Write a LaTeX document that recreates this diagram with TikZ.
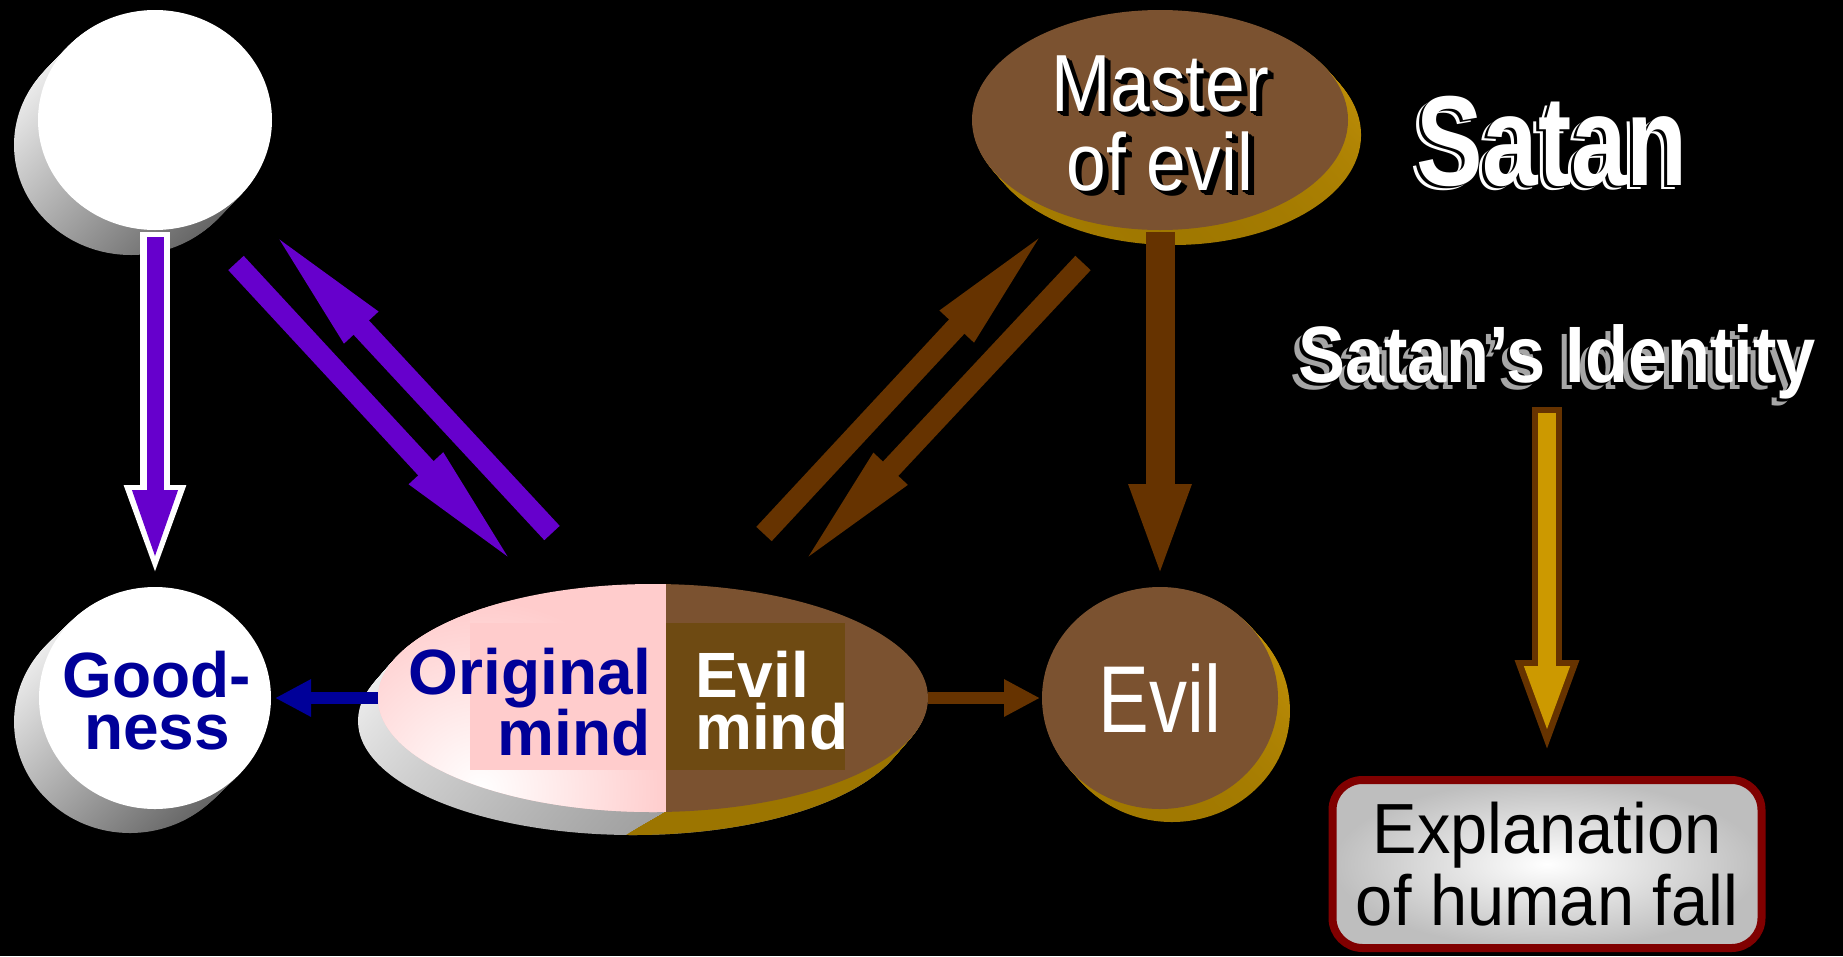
\documentclass[tikz,border=0pt]{standalone}
\usepackage{fontspec}
\setmainfont{Liberation Sans}
\newfontfamily\masterfont{Liberation Sans}[FakeStretch=0.88]
\newfontfamily\evilfont{Liberation Sans}[FakeStretch=0.8]
\newfontfamily\fallfont{Liberation Sans}[FakeStretch=0.94]
\newfontfamily\satanfont{Liberation Sans}[FakeStretch=0.78]
\newfontfamily\identfont{Liberation Sans}[FakeStretch=0.88]
\usetikzlibrary{shapes.geometric,arrows.meta,positioning}

\definecolor{arrowpurple}{HTML}{6600CC}
\definecolor{goodblue}{HTML}{000099}
\definecolor{arrowbrown}{HTML}{663300}
\definecolor{facebrown}{HTML}{7B5230}
\definecolor{evilbox}{HTML}{6E4A12}
\definecolor{pinkface}{HTML}{FFCCCC}
\definecolor{sidegold}{HTML}{C8960A}
\definecolor{sidegolddark}{HTML}{A07800}
\definecolor{mindgold}{HTML}{9C7500}
\definecolor{arrowgold}{HTML}{CC9900}
\definecolor{falldred}{HTML}{800000}
\definecolor{boxgray}{HTML}{BEBEBE}

\begin{document}
\begin{tikzpicture}[
    x=1pt, y=-1pt,
    face/.style={ellipse, inner sep=0pt, outer sep=0pt},
    mindtext/.style={inner sep=0pt, font=\bfseries\fontsize{64}{52}\selectfont},
    mastertext/.style={inner sep=0pt, align=center, font=\masterfont\fontsize{81}{79}\selectfont},
    satantext/.style={inner sep=0pt, anchor=base, font=\satanfont\bfseries\fontsize{128}{128}\selectfont},
    identtext/.style={inner sep=0pt, anchor=base, font=\identfont\bfseries\fontsize{80}{80}\selectfont},
    diagarrow/.style={line width=21pt, -{Triangle[length=140pt,width=40pt]}},
    shortarrow/.style={line width=12pt, -{Triangle[length=36pt,width=35pt]}}
]

\useasboundingbox (0,0) rectangle (1843,956);
\fill[black] (0,0) rectangle (1843,956);

% Sides of the disks
\foreach \k in {25,24,...,1}
  \shade[top color=black!8, bottom color=black!60, shading angle=45] (155-0.96*\k,120+\k) ellipse [x radius=117, y radius=110];
\foreach \k in {24,23,...,1}
  \shade[top color=black!8, bottom color=black!60, shading angle=45] (155-1.04*\k,698+\k) ellipse [x radius=116, y radius=111];
\foreach \k in {23,22,...,1}
  \shade[top color=black!6, bottom color=black!45, shading angle=30] (653-0.87*\k,698+\k) ellipse [x radius=275, y radius=114];
\begin{scope}
  \clip (666,560) -- (666,812) -- (600,850) -- (960,850) -- (960,560) -- cycle;
  \foreach \k in {23,22,...,1}
    \fill[mindgold] (653-0.87*\k,698+\k) ellipse [x radius=275, y radius=114];
\end{scope}
\foreach \k in {13,12,...,1}
  \shade[top color=sidegold, bottom color=sidegolddark] (1160+0.92*\k,698+\k) ellipse [x radius=118, y radius=111];
\foreach \k in {15,14,...,1}
  \shade[top color=sidegold, bottom color=sidegolddark] (1160+0.87*\k,120+\k) ellipse [x radius=188, y radius=110];

% Faces
\node[face, fill=white, minimum width=234pt, minimum height=220pt] (god) at (155,120) {};
\node[face, fill=white, minimum width=232pt, minimum height=222pt] (good) at (155,698) {};
\node[face, minimum width=550pt, minimum height=228pt] (mind) at (653,698) {};
\begin{scope}
  \clip (mind.center) ellipse [x radius=275, y radius=114];
  \fill[pinkface] (370,580) rectangle (666,815);
  \shade[inner color=white, outer color=pinkface] (480,790) circle [radius=190];
  \fill[facebrown] (666,580) rectangle (930,815);
  \fill[pinkface] (470,623) rectangle (666,770);
  \fill[evilbox] (666,623) rectangle (845,770);
\end{scope}
\node[face, fill=facebrown, minimum width=236pt, minimum height=222pt, text=white,
      font=\evilfont\fontsize{95}{95}\selectfont] (evil) at (1160,698) {Evil};
\node[face, fill=facebrown, minimum width=376pt, minimum height=220pt] (master) at (1160,120) {};

% Texts
\node[inner sep=0pt, text=goodblue, align=center, font=\bfseries\fontsize{64}{52}\selectfont] (goodtxt) at (157,701) {Good-\\ness};
\node[mindtext, text=goodblue, align=right, anchor=east] (orig) at (651,702) {Original\\mind};
\node[mindtext, text=white, align=left, anchor=west] (evilmind) at (695,701) {Evil\\mind};
\foreach \d in {1.5,3,4.5,6}
  \node[mastertext, text=black] at (1160+\d,124+0.7*\d) {Master\\of evil};
\node[mastertext, text=white] (mastertxt) at (1160,124) {Master\\of evil};
\node[satantext, text=white] at (1546,189) {Satan};
\node[satantext, text=black] at (1549,187) {Satan};
\node[satantext, text=white] (satan) at (1552,185) {Satan};
\node[identtext, text=black!35] at (1549,389) {Satan’s Identity};
\node[identtext, text=black] at (1554,385) {Satan’s Identity};
\node[identtext, text=white] (identity) at (1557,382) {Satan’s Identity};
\node[rectangle, rounded corners=30pt, draw=falldred, line width=8pt, inner color=white, outer color=boxgray,
      minimum width=429pt, minimum height=168pt, align=center,
      font=\fallfont\fontsize{71}{72}\selectfont] (fall) at (1547,864) {Explanation\\of human fall};

% Arrow ends
\coordinate (p1a) at (236,263);
\coordinate (p1b) at (521,571);
\coordinate (p2a) at (552,533);
\coordinate (p2b) at (266,225);
\coordinate (b1a) at (764,534);
\coordinate (b1b) at (1052,224);
\coordinate (b2a) at (1083,263);
\coordinate (b2b) at (795,571);

% Arrows
\draw[white, line width=30pt, -{Triangle[length=95pt,width=54pt]}, shorten <=2pt, shorten >=7pt] (god.south) -- (good.north);
\draw[arrowpurple, line width=17pt, -{Triangle[length=72pt,width=40pt]}, shorten <=7pt, shorten >=25pt] (god.south) -- (good.north);
\draw[diagarrow, arrowpurple] (p1a) -- (p1b);
\draw[diagarrow, arrowpurple] (p2a) -- (p2b);
\draw[diagarrow, arrowbrown] (b1a) -- (b1b);
\draw[diagarrow, arrowbrown] (b2a) -- (b2b);
\draw[arrowbrown, line width=29pt, -{Triangle[length=96pt,width=55pt]}, shorten <=2pt, shorten >=7pt] (master.south) -- (evil.north);
\draw[shortarrow, goodblue, shorten >=4pt] (mind.west) -- (good.east);
\draw[shortarrow, arrowbrown, shorten >=2pt] (mind.east) -- (evil.west);
\draw[arrowbrown, line width=30pt, -{Triangle[length=97pt,width=56pt]}, shorten <=8pt, shorten >=19pt] (identity.south -| fall.north) -- (fall.north);
\draw[arrowgold, line width=18pt, -{Triangle[length=69pt,width=40pt]}, shorten <=14pt, shorten >=41pt] (identity.south -| fall.north) -- (fall.north);

\end{tikzpicture}
\end{document}
